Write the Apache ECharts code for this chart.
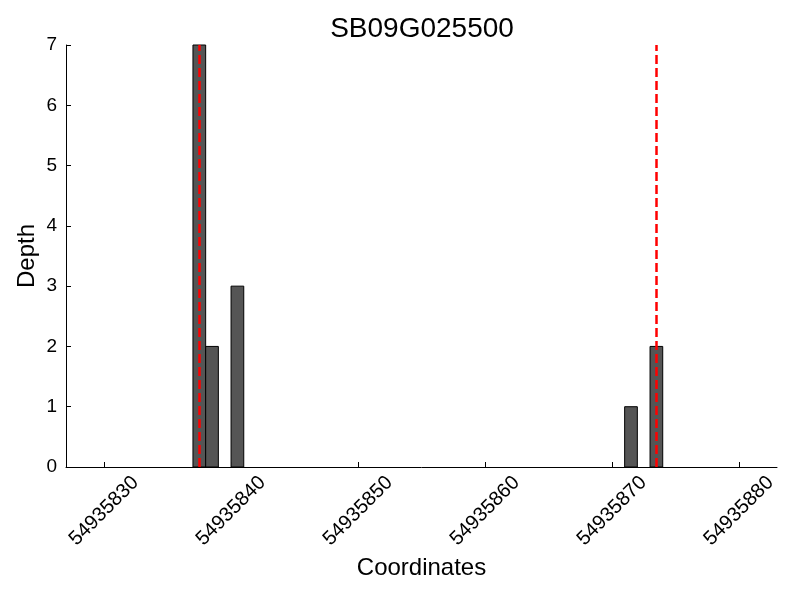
<!DOCTYPE html>
<html>
<head>
<meta charset="utf-8">
<script src="https://cdn.jsdelivr.net/npm/echarts@6/dist/echarts.min.js"></script>
<style>html,body{margin:0;padding:0;background:#fff;}#chart{width:800px;height:600px;}</style>
</head>
<body>
<div id="chart"></div>
<script>
// ---- data ----
const chartTitle = 'SB09G025500';
const binStarts = [54935837, 54935838, 54935840, 54935871, 54935873];
const depths = [7, 2, 3, 1, 2];
const binWidth = 1;
const geneBounds = [54935837.5, 54935873.5];
const xTicks = [54935830, 54935840, 54935850, 54935860, 54935870, 54935880];
const xMin = 54935827, xMax = 54935883;
const yTicks = [0, 1, 2, 3, 4, 5, 6, 7];

const FONT = 'Liberation Sans';
const chart = echarts.init(document.getElementById('chart'), null, {renderer: 'canvas'});
const option = {
  animation: false,
  backgroundColor: '#fff',
  title: {
    text: chartTitle,
    left: 417, top: 10, textAlign: 'center',
    textStyle: {fontFamily: FONT, fontSize: 28, fontWeight: 'normal', color: '#000'}
  },
  grid: {left: 66, right: 23, top: 45, bottom: 133, containLabel: false},
  xAxis: {
    type: 'value', min: xMin, max: xMax,
    name: 'Coordinates', nameLocation: 'middle', nameGap: 89, nameMoveOverlap: false,
    nameTextStyle: {fontFamily: FONT, fontSize: 24, color: '#000'},
    axisLine: {show: true, onZero: false, lineStyle: {color: '#000', width: 1}},
    axisTick: {show: true, inside: true, length: 5, customValues: xTicks, lineStyle: {color: '#000'}},
    axisLabel: {
      customValues: xTicks, rotate: 45, align: 'center', verticalAlign: 'middle', margin: 44,
      fontFamily: FONT, fontSize: 20, color: '#000',
      formatter: v => String(v)
    },
    splitLine: {show: false}
  },
  yAxis: {
    type: 'value', min: yTicks[0], max: yTicks[yTicks.length - 1], interval: 1,
    name: 'Depth', nameLocation: 'middle', nameGap: 27, nameMoveOverlap: false,
    nameTextStyle: {fontFamily: FONT, fontSize: 24, color: '#000'},
    axisLine: {show: true, lineStyle: {color: '#000', width: 1}},
    axisTick: {show: true, inside: true, length: 5, lineStyle: {color: '#000'}},
    axisLabel: {fontFamily: FONT, fontSize: 19, color: '#000', margin: 9},
    splitLine: {show: false}
  },
  series: [{
    type: 'custom',
    data: binStarts.map((x, i) => [x, depths[i]]),
    renderItem: function (params, api) {
      const x = api.value(0), y = api.value(1);
      const p0 = api.coord([x, y]);
      const p1 = api.coord([x + binWidth, 0]);
      return {
        type: 'rect',
        shape: {x: p0[0], y: p0[1], width: p1[0] - p0[0], height: p1[1] - p0[1]},
        style: {fill: '#555555', stroke: '#000', lineWidth: 1}
      };
    },
    markLine: {
      silent: true, symbol: 'none', label: {show: false},
      lineStyle: {color: '#ff0000', width: 2.5, type: [9, 4]},
      data: geneBounds.map(v => ({xAxis: v}))
    },
    z: 2
  }]
};
chart.setOption(option);
</script>
</body>
</html>
